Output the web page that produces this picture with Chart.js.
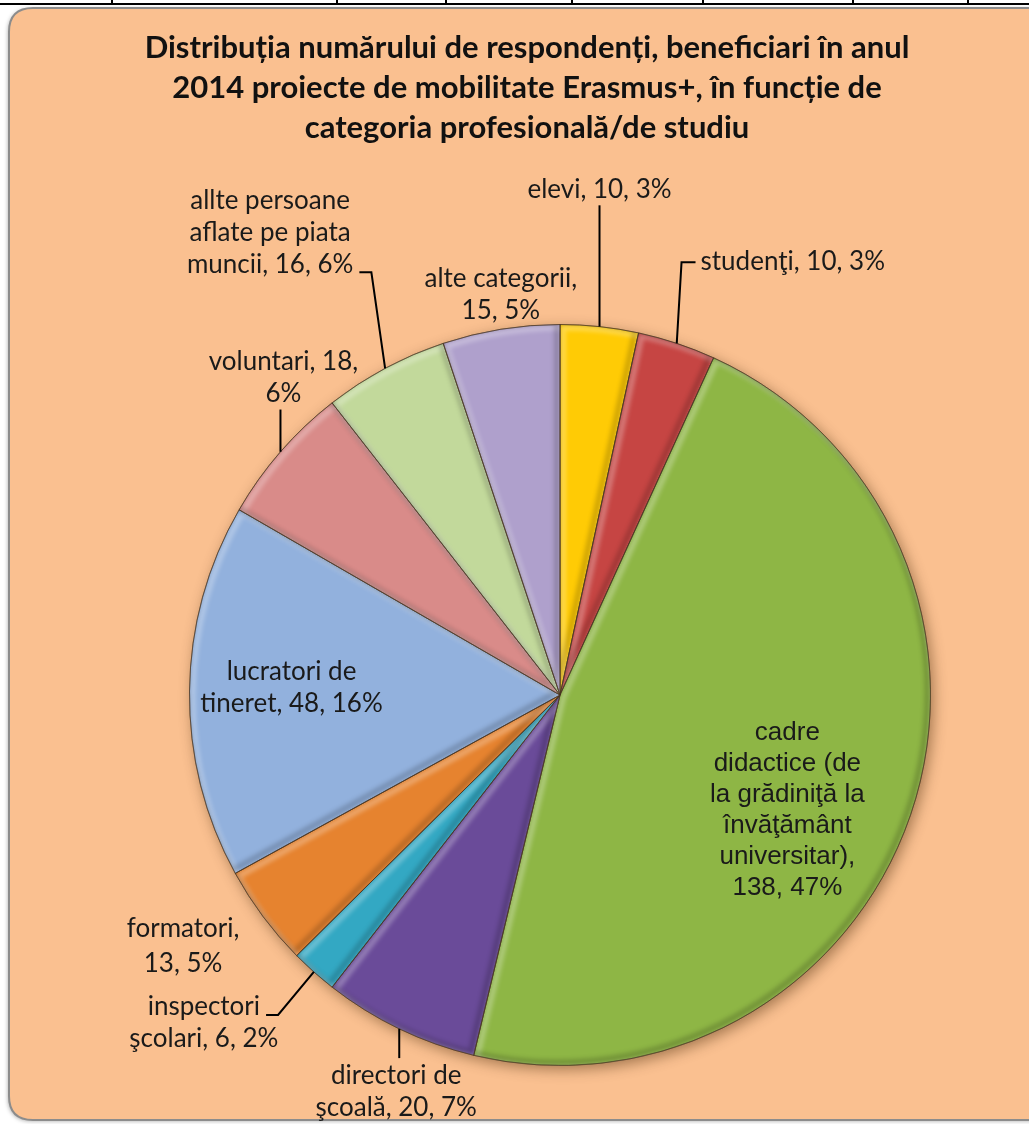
<!DOCTYPE html>
<html>
<head>
<meta charset="utf-8">
<script src="https://cdn.jsdelivr.net/npm/chart.js@4.4.1/dist/chart.umd.min.js"></script>
<style>
  html, body { margin: 0; padding: 0; background: #fff; }
  #wrap { position: relative; width: 1029px; height: 1124px; }
</style>
</head>
<body>
<div id="wrap"><canvas id="pie-chart" width="1029" height="1124"></canvas></div>
<script>
// Data
const CATEGORIES = [
  "elevi",
  "studenţi",
  "cadre\ndidactice (de\nla grădiniţă la\nînvăţământ\nuniversitar)",
  "directori de\nşcoală",
  "inspectori\nşcolari",
  "formatori",
  "lucratori de\ntineret",
  "voluntari",
  "allte persoane\naflate pe piata\nmuncii",
  "alte categorii",
];
const RESPONDENTS = [10, 10, 138, 20, 6, 13, 48, 18, 16, 15];
const PERCENTS = [3, 3, 47, 7, 2, 5, 16, 6, 6, 5];
const TITLE_LINES = [
  "Distribuția numărului de respondenți, beneficiari în anul",
  "2014 proiecte de mobilitate Erasmus+, în funcție de",
  "categoria profesională/de studiu",
];

// Styling
const SLICE_COLORS = [
  "#FFCB05", "#C64543", "#8EB645", "#6A4B99", "#33A8C3",
  "#E6832F", "#92B1DD", "#D98B89", "#C2D99B", "#AFA0CC",
];
const LABEL_FORMATS = [
  "{n}, {v}, {p}",
  "{n}, {v}, {p}",
  "{n},\n{v}, {p}",
  "{n}, {v}, {p}",
  "{n}, {v}, {p}",
  "{n},\n{v}, {p}",
  "{n}, {v}, {p}",
  "{n}, {v},\n{p}",
  "{n}, {v}, {p}",
  "{n},\n{v}, {p}",
];
// offset of the label block centre from the slice's mid point on the rim
const LABEL_LAYOUT = [
  { dx: 0, dy: -137, leader: "up" },
  { dx: 116, dy: -82, leader: "elbowLeft", line: 0 },
  { dx: -123, dy: -5, leader: "none", font: "Liberation Sans", size: 26, gap: 31 },
  { dx: -3, dy: 63, leader: "down" },
  { dx: -110, dy: 51, leader: "elbowRight", line: 0 },
  { dx: -80, dy: 30, leader: "none", gap: 35 },
  { dx: 102, dy: -3, leader: "none" },
  { dx: 3, dy: -74, leader: "up" },
  { dx: -115, dy: -136, leader: "elbowRight", line: 2 },
  { dx: 0, dy: -35, leader: "none" },
];
const LABEL_FONT = "Lato";
const LABEL_SIZE = 26;
const LINE_GAP = 32;

function labelLines(i) {
  return LABEL_FORMATS[i]
    .replace("{n}", CATEGORIES[i])
    .replace("{v}", RESPONDENTS[i])
    .replace("{p}", PERCENTS[i] + "%")
    .split("\n");
}

function roundRect(ctx, x, y, w, h, r) {
  ctx.beginPath();
  ctx.moveTo(x + r, y);
  ctx.lineTo(x + w - r, y);
  ctx.quadraticCurveTo(x + w, y, x + w, y + r);
  ctx.lineTo(x + w, y + h - r);
  ctx.quadraticCurveTo(x + w, y + h, x + w - r, y + h);
  ctx.lineTo(x + r, y + h);
  ctx.quadraticCurveTo(x, y + h, x, y + h - r);
  ctx.lineTo(x, y + r);
  ctx.quadraticCurveTo(x, y, x + r, y);
  ctx.closePath();
}

function slicePath(ctx, p) {
  ctx.beginPath();
  ctx.moveTo(p.x, p.y);
  ctx.arc(p.x, p.y, p.outerRadius, p.startAngle, p.endAngle);
  ctx.closePath();
}

const backgroundPlugin = {
  id: "background",
  beforeDraw(chart) {
    const ctx = chart.ctx;
    ctx.save();
    ctx.fillStyle = "#fff";
    ctx.fillRect(0, 0, chart.width, chart.height);
    // table border left over on the page
    ctx.strokeStyle = "#000";
    ctx.lineWidth = 2;
    ctx.beginPath();
    ctx.moveTo(0, 4);
    ctx.lineTo(chart.width, 4);
    [112, 337, 446, 572, 703, 853, 968].forEach((x) => {
      ctx.moveTo(x, 0);
      ctx.lineTo(x, 4);
    });
    ctx.stroke();
    // chart area box
    ctx.shadowColor = "rgba(0,0,0,0.35)";
    ctx.shadowBlur = 4;
    ctx.shadowOffsetX = -1;
    ctx.shadowOffsetY = 1;
    roundRect(ctx, 9, 8, 1060, 1112, 24);
    ctx.fillStyle = "#FAC090";
    ctx.fill();
    ctx.shadowColor = "transparent";
    ctx.strokeStyle = "#8c8c8c";
    ctx.lineWidth = 2;
    ctx.stroke();
    // title
    ctx.fillStyle = "#111";
    ctx.font = "bold 31px Lato";
    ctx.textAlign = "center";
    ctx.textBaseline = "middle";
    TITLE_LINES.forEach((t, k) => ctx.fillText(t, 527, 48 + k * 40));
    ctx.restore();
  },
  beforeDatasetsDraw(chart) {
    const arc = chart.getDatasetMeta(0).data[0];
    if (!arc) return;
    const { x, y, outerRadius } = arc.getProps(["x", "y", "outerRadius"], true);
    const ctx = chart.ctx;
    ctx.save();
    ctx.shadowColor = "rgba(60,30,0,0.45)";
    ctx.shadowBlur = 14;
    ctx.shadowOffsetX = 3;
    ctx.shadowOffsetY = 4;
    ctx.fillStyle = "#c9a080";
    ctx.beginPath();
    ctx.arc(x, y, outerRadius, 0, Math.PI * 2);
    ctx.fill();
    ctx.restore();
  },
};

// soft bevel on each slice: light on the upper-left edges, dark on the lower-right
const bevelPlugin = {
  id: "bevel",
  afterDatasetsDraw(chart) {
    const ctx = chart.ctx;
    chart.getDatasetMeta(0).data.forEach((arc) => {
      const p = arc.getProps(["x", "y", "startAngle", "endAngle", "outerRadius"], true);
      ctx.save();
      slicePath(ctx, p);
      ctx.clip();
      ctx.filter = "blur(2px)";
      ctx.lineJoin = "round";
      ctx.translate(3, 3);
      slicePath(ctx, p);
      ctx.strokeStyle = "rgba(255,255,255,0.28)";
      ctx.lineWidth = 6;
      ctx.stroke();
      ctx.translate(-6, -6);
      slicePath(ctx, p);
      ctx.strokeStyle = "rgba(0,0,0,0.18)";
      ctx.stroke();
      ctx.restore();
      ctx.save();
      slicePath(ctx, p);
      ctx.strokeStyle = "rgba(70,50,30,0.55)";
      ctx.lineWidth = 1;
      ctx.stroke();
      ctx.restore();
    });
  },
};

const labelPlugin = {
  id: "sliceLabels",
  afterDatasetsDraw(chart) {
    const ctx = chart.ctx;
    const meta = chart.getDatasetMeta(0);
    ctx.save();
    ctx.textAlign = "center";
    ctx.textBaseline = "middle";
    meta.data.forEach((arc, i) => {
      const { x, y, startAngle, endAngle, outerRadius } = arc.getProps(
        ["x", "y", "startAngle", "endAngle", "outerRadius"], true);
      const mid = (startAngle + endAngle) / 2;
      const ex = x + Math.cos(mid) * outerRadius;
      const ey = y + Math.sin(mid) * outerRadius;
      const lay = LABEL_LAYOUT[i];
      const lines = labelLines(i);
      const size = lay.size || LABEL_SIZE;
      const gap = lay.gap || LINE_GAP;
      ctx.font = `${size}px ${lay.font || LABEL_FONT}`;
      const cx = ex + lay.dx;
      const cy = ey + lay.dy;
      const top = cy - ((lines.length - 1) * gap) / 2;
      ctx.fillStyle = "#1a1a1a";
      lines.forEach((t, k) => ctx.fillText(t, cx, top + k * gap));

      const half = size * 0.45;
      ctx.strokeStyle = "#000";
      ctx.lineWidth = 2;
      ctx.beginPath();
      if (lay.leader === "up") {
        ctx.moveTo(ex, ey);
        ctx.lineTo(ex, top + (lines.length - 1) * gap + half + 4);
      } else if (lay.leader === "down") {
        ctx.moveTo(ex, ey);
        ctx.lineTo(ex, top - half - 6);
      } else if (lay.leader === "elbowLeft") {
        const ly = top + lay.line * gap + 1;
        const lx = cx - ctx.measureText(lines[lay.line]).width / 2;
        ctx.moveTo(ex, ey);
        ctx.lineTo(lx - 19, ly);
        ctx.lineTo(lx - 5, ly);
      } else if (lay.leader === "elbowRight") {
        const ly = top + lay.line * gap + 8;
        const rx = cx + ctx.measureText(lines[lay.line]).width / 2;
        ctx.moveTo(ex, ey);
        ctx.lineTo(rx + 18, ly);
        ctx.lineTo(rx + 6, ly);
      }
      ctx.stroke();
    });
    ctx.restore();
  },
};

new Chart(document.getElementById("pie-chart").getContext("2d"), {
  type: "pie",
  data: {
    labels: CATEGORIES,
    datasets: [
      {
        data: RESPONDENTS,
        backgroundColor: SLICE_COLORS,
        borderColor: "rgba(70,50,30,0.55)",
        borderWidth: 1,
      },
    ],
  },
  options: {
    responsive: false,
    animation: false,
    layout: { padding: { left: 189, right: 98, top: 324, bottom: 58 } },
    plugins: {
      legend: { display: false },
      title: { display: false },
      tooltip: { enabled: false },
    },
  },
  plugins: [backgroundPlugin, bevelPlugin, labelPlugin],
});
</script>
</body>
</html>
